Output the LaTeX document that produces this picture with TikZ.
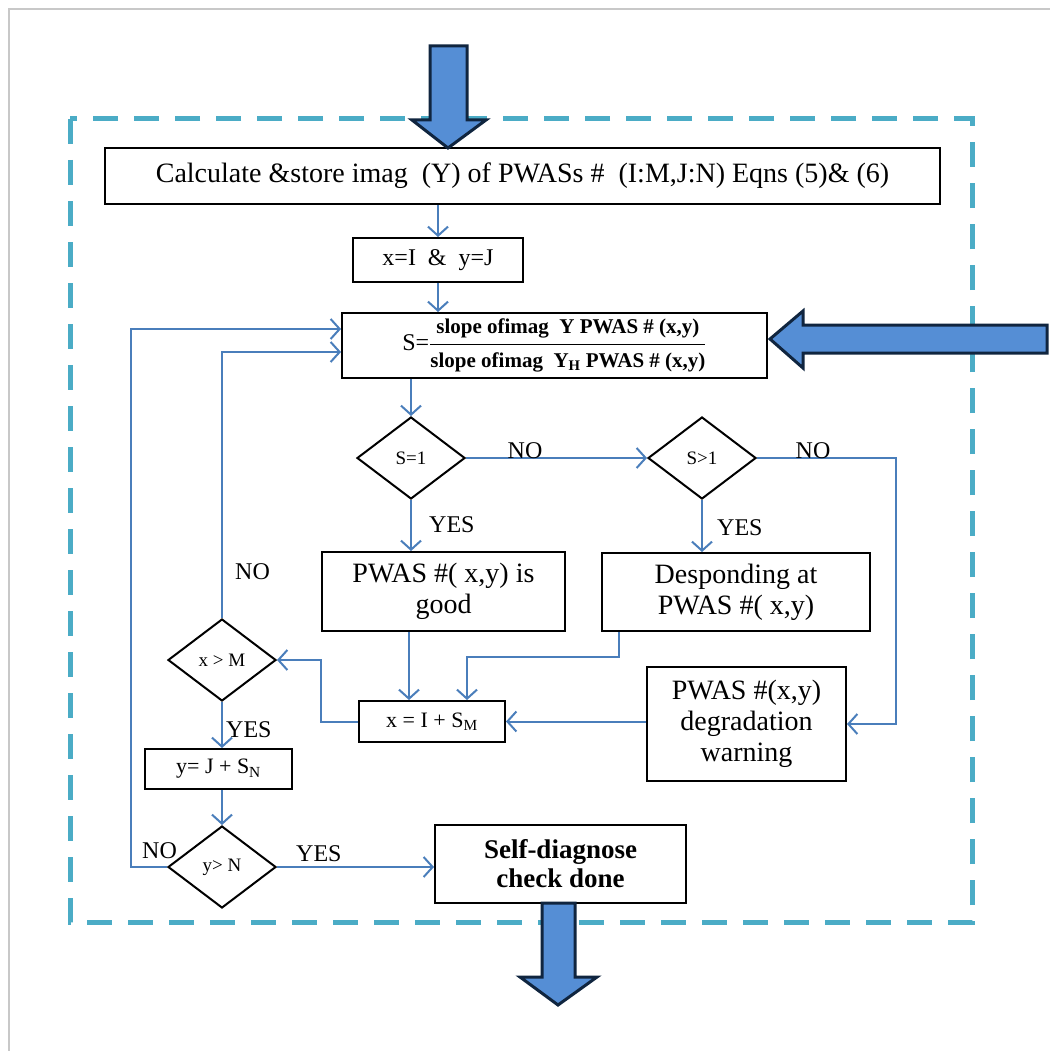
\documentclass[tikz,border=0pt]{standalone}
\usepackage{fontspec}
\setmainfont{Liberation Serif}
\usetikzlibrary{arrows.meta,shapes.geometric,calc}
\definecolor{linkblue}{HTML}{4A7EBB}
\definecolor{frameaqua}{HTML}{4BACC6}
\definecolor{bigfill}{HTML}{558ED5}
\definecolor{bigedge}{HTML}{10253F}
\definecolor{pagegray}{HTML}{C8C8C8}

\begin{document}
\begin{tikzpicture}[x=1pt,y=-1pt,
  procbox/.style={draw=black,line width=2pt,rectangle,inner sep=0pt,align=center,
    font=\fontsize{28}{31}\selectfont},
  decide/.style={draw=black,line width=2pt,diamond,inner sep=0pt,
    minimum width=108pt,minimum height=82pt,font=\fontsize{19}{22}\selectfont},
  conn/.style={draw=linkblue,line width=2pt,-{Straight Barb[length=9pt,width=20pt]}},
  lbl/.style={inner sep=0pt,font=\fontsize{24}{28}\selectfont},
  bigarrow/.style={fill=bigfill,draw=bigedge,line width=3pt,line join=miter},
]
\useasboundingbox (0,0) rectangle (1050,1051);
\fill[white] (0,0) rectangle (1050,1051);
\draw[pagegray,line width=2pt] (9,1051) -- (9,9) -- (1050,9);

% dashed frame round the procedure
\draw[frameaqua,line width=5pt,dash pattern=on 25pt off 16pt] (70,119) rectangle (972,922);

% process boxes
\node[procbox,minimum width=835pt,minimum height=56pt] (calc) at (522.5,176)
  {Calculate \&store imag\ \ (Y) of PWASs \#\ \ (I:M,J:N) Eqns (5)\& (6)};
\node[procbox,minimum width=170pt,minimum height=44pt,font=\fontsize{24}{28}\selectfont]
  (init) at (438,260) {x=I\ \ \&\ \ y=J};
\node[procbox,minimum width=425pt,minimum height=65pt] (ratio) at (554.5,345.5)
  {\fontsize{24}{28}\selectfont S=$\displaystyle\frac{\mbox{\fontsize{21}{24}\bfseries slope ofimag\ \ Y PWAS \# (x,y)}}{\mbox{\fontsize{21}{24}\bfseries slope ofimag\ \ Y\textsubscript{H} PWAS \# (x,y)}}$};
\node[procbox,minimum width=243pt,minimum height=79pt] (good) at (443.5,591.5)
  {PWAS \#( x,y) is\\good};
\node[procbox,minimum width=268pt,minimum height=78pt] (desp) at (736,592)
  {Desponding at\\PWAS \#( x,y)};
\node[procbox,minimum width=146pt,minimum height=41pt,font=\fontsize{22}{26}\selectfont]
  (xinc) at (432,721.5) {x = I + S\textsubscript{M}};
\node[procbox,minimum width=199pt,minimum height=114pt] (warn) at (746.5,724)
  {PWAS \#(x,y)\\degradation\\warning};
\node[procbox,minimum width=147pt,minimum height=40pt,font=\fontsize{22}{26}\selectfont]
  (yinc) at (218.5,769) {y= J + S\textsubscript{N}};
\node[procbox,minimum width=251pt,minimum height=78pt,font=\fontsize{27}{29}\bfseries]
  (done) at (560.5,864) {Self-diagnose\\check done};

% decisions
\node[decide] (eq1) at (411,458) {S=1};
\node[decide] (gt1) at (702,458) {S>1};
\node[decide] (xm) at (222,660) {x > M};
\node[decide] (yn) at (222,867) {y> N};

% routing columns and rows
\coordinate (colA) at (438,0);
\coordinate (colB) at (409,0);
\coordinate (colC) at (619,0);
\coordinate (colD) at (467,0);
\coordinate (colF) at (321,0);
\coordinate (colH) at (131,0);
\coordinate (rtrack) at (896,0);
\coordinate (rowE) at (0,657);
\coordinate (rowG) at (0,352);
\coordinate (rowI) at (0,329);

% connectors
\draw[conn] (calc.south -| colA) -- (init.north -| colA);
\draw[conn] (init.south -| colA) -- (ratio.north -| colA);
\draw[conn] (ratio.south -| eq1.north) -- (eq1.north);
\draw[conn] (eq1.east) -- (gt1.west);
\draw[conn] (gt1.east) -- (gt1.east -| rtrack) -- (warn.east -| rtrack) -- (warn.east);
\draw[conn] (eq1.south) -- (good.north -| eq1.south);
\draw[conn] (gt1.south) -- (desp.north -| gt1.south);
\draw[conn] (good.south -| colB) -- (xinc.north -| colB);
\draw[conn] (desp.south -| colC) -- (colC |- rowE) -- (colD |- rowE) -- (xinc.north -| colD);
\draw[conn] (warn.west |- xinc.east) -- (xinc.east);
\draw[conn] (xinc.west) -- (xinc.west -| colF) -- (colF |- xm.east) -- (xm.east);
\draw[conn] (xm.north) -- (xm.north |- rowG) -- (ratio.west |- rowG);
\draw[conn] (xm.south) -- (yinc.north -| xm.south);
\draw[conn] (yinc.south -| yn.north) -- (yn.north);
\draw[conn] (yn.west) -- (yn.west -| colH) -- (colH |- rowI) -- (ratio.west |- rowI);
\draw[conn] (yn.east) -- (done.west |- yn.east);

% branch labels
\node[lbl,anchor=south] (noA) at (525,459) {NO};
\node[lbl,anchor=south] (noB) at (813,459) {NO};
\node[lbl,anchor=west] (yesA) at (429,525) {YES};
\node[lbl,anchor=west] (yesB) at (717,528) {YES};
\node[lbl,anchor=west] (noC) at (235,572) {NO};
\node[lbl,anchor=west] (yesC) at (226,730) {YES};
\node[lbl,anchor=south west] (noD) at (142,859) {NO};
\node[lbl,anchor=south west] (yesD) at (296,862) {YES};

% block arrows: entry, re-entry and exit
\draw[bigarrow] (430,46) -- (467,46) -- (467,120) -- (486,120) -- (448,148)
  -- (412,120) -- (430,120) -- cycle;
\draw[bigarrow] (1047,325) -- (1047,353) -- (803,353) -- (803,368) -- (770,339)
  -- (803,311) -- (803,325) -- cycle;
\draw[bigarrow] (542,903) -- (575,903) -- (575,977) -- (597,977) -- (558,1005)
  -- (520,977) -- (542,977) -- cycle;
\end{tikzpicture}
\end{document}
